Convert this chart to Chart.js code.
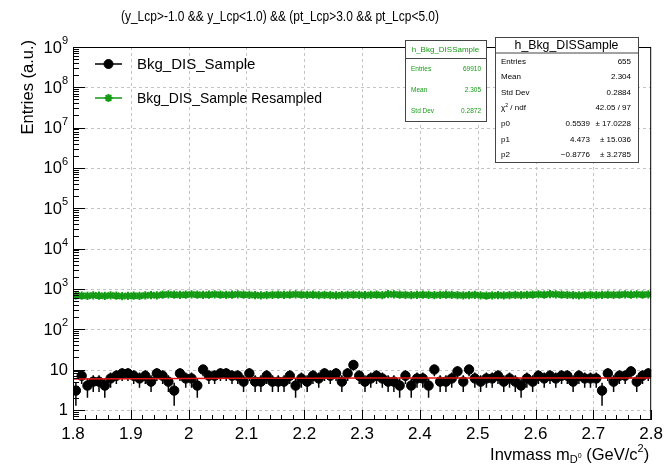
<!DOCTYPE html>
<html>
<head>
<meta charset="utf-8">
<script src="https://cdn.jsdelivr.net/npm/chart.js@4.4.0/dist/chart.umd.min.js"></script>
<style>
  html, body { margin: 0; padding: 0; background: #fff; }
</style>
</head>
<body>
<canvas id="myChart" width="667" height="464"></canvas>
<script>
// histogram binning (GeV/c^2)
const binLow = 1.8;
const binWidth = 0.01;

// Bkg_DIS_Sample, counts per bin
const sampleCounts = [
  3, 7, 4, 5, 5, 4, 6, 7, 8, 8,
  7, 6, 7, 5, 8, 7, 5, 3, 8, 6,
  6, 4, 10, 7, 7, 8, 8, 7, 7, 5,
  8, 5, 5, 7, 5, 5, 5, 7, 4, 6,
  5, 7, 6, 8, 7, 8, 5, 8, 13, 7,
  5, 6, 7, 6, 5, 5, 4, 7, 4, 6,
  6, 4, 10, 5, 5, 6, 9, 5, 10, 6,
  5, 6, 6, 7, 5, 6, 5, 4, 6, 5,
  7, 6, 7, 6, 7, 7, 5, 7, 6, 6,
  6, 3, 8, 5, 7, 7, 9, 5, 7, 8
];

// Bkg_DIS_Sample Resampled, counts per bin
const resampledCounts = [
  690, 680, 670, 690, 680, 670, 690, 680, 660, 670,
  680, 670, 690, 700, 690, 720, 730, 720, 710, 720,
  730, 720, 710, 720, 730, 720, 710, 720, 730, 720,
  710, 700, 690, 700, 710, 720, 710, 720, 730, 720,
  710, 720, 700, 710, 700, 690, 700, 710, 720, 710,
  700, 710, 720, 700, 740, 730, 720, 710, 700, 710,
  720, 710, 700, 710, 720, 710, 700, 690, 700, 710,
  690, 680, 690, 700, 690, 700, 710, 700, 710, 720,
  730, 720, 740, 730, 720, 710, 700, 690, 700, 710,
  700, 710, 720, 710, 720, 730, 720, 730, 720, 730
];

// pol2 fit curve
const fitX = [1.8, 2.0, 2.2, 2.4, 2.6, 2.8];
const fitY = [5.8, 6.0, 6.1, 6.2, 6.2, 6.2];

const titleText = '(y_Lcp>-1.0 && y_Lcp<1.0) && (pt_Lcp>3.0 && pt_Lcp<5.0)';
const legendLabels = ['Bkg_DIS_Sample', 'Bkg_DIS_Sample Resampled'];
const yDecades = [0, 1, 2, 3, 4, 5, 6, 7, 8, 9];

const statsResampledName = 'h_Bkg_DISSample';
const statsResampledRows = [['Entries', '69910'], ['Mean', '2.305'], ['Std Dev', '0.2872']];
const statsSampleName = 'h_Bkg_DISSample';
const statsSampleRows = [
  ['Entries', '655', ''],
  ['Mean', '2.304', ''],
  ['Std Dev', '0.2884', ''],
  ['chi2', '42.05 / 97', ''],
  ['p0', '0.5539', '\u00b1 17.0228'],
  ['p1', '4.473', '\u00b1 15.036'],
  ['p2', '\u22120.8776', '\u00b1 3.2785']
];

const FONT = '"Liberation Sans", Arial, Helvetica, sans-serif';
const GREEN = 'rgb(20,155,20)';

function f(px){ return px + 'px ' + FONT; }

const binCentres = sampleCounts.map((v, i) => binLow + (i + 0.5) * binWidth);

function drawMarker(ctx, style, r, bw, fill, stroke, x, y){
  if (Chart.helpers && Chart.helpers.drawPoint){
    ctx.fillStyle = fill; ctx.strokeStyle = stroke; ctx.lineWidth = bw;
    Chart.helpers.drawPoint(ctx, {pointStyle: style, radius: r, borderWidth: bw, rotation: 0}, x, y);
  }
}

// text squeezed to a given width, like the narrow ROOT helvetica
function squeezedText(ctx, txt, cx, cy, size, width){
  ctx.font = f(size);
  const w = ctx.measureText(txt).width;
  const s = Math.min(1, width / w);
  ctx.save();
  ctx.translate(cx, cy);
  ctx.scale(s, 1);
  ctx.fillText(txt, 0, 0);
  ctx.restore();
}

function statsBox(ctx, x0, y0, x1, y1, titleH, name, nameSize, rows, rowSize, color, valueX, errX){
  ctx.fillStyle = '#fff';
  ctx.fillRect(x0, y0, x1 - x0, y1 - y0);
  ctx.strokeStyle = '#444';
  ctx.lineWidth = 1;
  ctx.strokeRect(x0 + 0.5, y0 + 0.5, x1 - x0, y1 - y0);
  ctx.beginPath();
  ctx.moveTo(x0, y0 + titleH + 0.5); ctx.lineTo(x1, y0 + titleH + 0.5);
  ctx.stroke();
  ctx.fillStyle = color;
  ctx.font = f(nameSize);
  ctx.textAlign = 'center'; ctx.textBaseline = 'middle';
  ctx.fillText(name, (x0 + x1) / 2, y0 + titleH / 2 + 1);
  const rowH = (y1 - y0 - titleH) / rows.length;
  rows.forEach((r, i) => {
    const cy = y0 + titleH + rowH * (i + 0.5) + 1;
    ctx.font = f(rowSize);
    ctx.textAlign = 'left';
    if (r[0] === 'chi2'){
      ctx.fillText('\u03c7', x0 + 6, cy);
      const w = ctx.measureText('\u03c7').width;
      ctx.font = f(rowSize * 0.65);
      ctx.fillText('2', x0 + 6 + w, cy - 3);
      const w2 = ctx.measureText('2').width;
      ctx.font = f(rowSize);
      ctx.fillText(' / ndf', x0 + 6 + w + w2, cy);
    } else {
      ctx.fillText(r[0], x0 + 6, cy);
    }
    ctx.textAlign = 'right';
    if (r[2]){
      ctx.fillText(r[1], valueX, cy);
      ctx.fillText(r[2], errX, cy);
    } else {
      ctx.fillText(r[1], errX, cy);
    }
  });
}

const rootPlugin = {
  id: 'rootStyle',
  beforeDatasetsDraw(chart){
    const {ctx, chartArea: a, scales: {x, y}} = chart;
    ctx.save();
    // dashed grid
    ctx.strokeStyle = '#c4c4c4';
    ctx.lineWidth = 1;
    ctx.setLineDash([3, 3]);
    ctx.beginPath();
    x.ticks.forEach(t => {
      const px = Math.round(x.getPixelForValue(t.value)) + 0.5;
      if (px > a.left + 1 && px < a.right - 1){ ctx.moveTo(px, a.top); ctx.lineTo(px, a.bottom); }
    });
    yDecades.forEach(e => {
      const py = Math.round(y.getPixelForValue(Math.pow(10, e))) + 0.5;
      if (py > a.top + 1 && py < a.bottom - 1){ ctx.moveTo(a.left, py); ctx.lineTo(a.right, py); }
    });
    ctx.stroke();
    ctx.setLineDash([]);
    // poisson error bars
    [[sampleCounts, '#000', 1.5], [resampledCounts, GREEN, 1]].forEach(([vals, col, lw]) => {
      ctx.strokeStyle = col; ctx.lineWidth = lw;
      ctx.beginPath();
      vals.forEach((v, i) => {
        const px = x.getPixelForValue(binCentres[i]);
        const err = Math.sqrt(v);
        ctx.moveTo(px, y.getPixelForValue(v + err));
        ctx.lineTo(px, y.getPixelForValue(Math.max(v - err, y.min)));
      });
      ctx.stroke();
    });
    ctx.restore();
  },
  afterDraw(chart){
    const {ctx, chartArea: a, scales: {x, y}} = chart;
    ctx.save();
    // frame
    ctx.strokeStyle = '#000';
    ctx.lineWidth = 1;
    ctx.strokeRect(a.left + 0.5, a.top + 0.5, a.right - a.left - 1, a.bottom - a.top - 1);
    // x ticks inside frame
    ctx.beginPath();
    for (let k = 0; k <= 50; k++){
      const v = binLow + k * 0.02;
      const px = Math.round(x.getPixelForValue(v)) + 0.5;
      const len = (k % 5 === 0) ? 10 : 5;
      ctx.moveTo(px, a.bottom); ctx.lineTo(px, a.bottom - len);
    }
    // y ticks inside frame
    for (let e = -1; e <= 9; e++){
      for (let k = 1; k <= 9; k++){
        const v = k * Math.pow(10, e);
        if (v < y.min || v > y.max * 1.0001) continue;
        const py = Math.round(y.getPixelForValue(v)) + 0.5;
        const len = (k === 1) ? 12 : 6;
        ctx.moveTo(a.left, py); ctx.lineTo(a.left + len, py);
      }
    }
    ctx.stroke();
    // y tick labels
    ctx.fillStyle = '#000';
    ctx.textBaseline = 'middle';
    ctx.textAlign = 'left';
    const rx = a.left - 5;
    yDecades.forEach(e => {
      const py = y.getPixelForValue(Math.pow(10, e));
      ctx.font = f(16.5);
      if (e === 0 || e === 1){
        const s = e === 0 ? '1' : '10';
        ctx.fillText(s, rx - ctx.measureText(s).width, py + 1);
      } else {
        const wb = ctx.measureText('10').width;
        ctx.font = f(11);
        const ws = ctx.measureText(String(e)).width;
        ctx.fillText(String(e), rx - ws, py - 6);
        ctx.font = f(16.5);
        ctx.fillText('10', rx - ws - wb, py + 1);
      }
    });
    // y axis title
    ctx.save();
    ctx.translate(28, a.top - 7);
    ctx.rotate(-Math.PI / 2);
    ctx.font = f(16.5);
    ctx.textAlign = 'right';
    ctx.textBaseline = 'middle';
    ctx.fillText('Entries (a.u.)', 0, 0);
    ctx.restore();
    // x axis title: Invmass m_{D^0} (GeV/c^2)
    {
      const base = 455;
      const parts = [
        ['Invmass m', 16.5, 0], ['D', 11, 5], ['0', 7, 1], [' (GeV/c', 16.5, 0], ['2', 11, -6], [')', 16.5, 0]
      ];
      let total = 0;
      parts.forEach(p => { ctx.font = f(p[1]); total += ctx.measureText(p[0]).width; });
      let cx = a.right - 2 - total;
      ctx.textAlign = 'left';
      ctx.textBaseline = 'middle';
      parts.forEach(p => {
        ctx.font = f(p[1]);
        ctx.fillText(p[0], cx, base + p[2]);
        cx += ctx.measureText(p[0]).width;
      });
    }
    // title
    ctx.textAlign = 'center';
    ctx.textBaseline = 'middle';
    squeezedText(ctx, titleText, 280, 17, 15, 318);
    // legend
    const ly = [64, 98];
    ctx.lineWidth = 1.5;
    ctx.strokeStyle = '#000';
    ctx.beginPath(); ctx.moveTo(95, ly[0]); ctx.lineTo(122, ly[0]); ctx.stroke();
    drawMarker(ctx, 'circle', 4.5, 1, '#000', '#000', 108.5, ly[0]);
    ctx.strokeStyle = GREEN; ctx.lineWidth = 1.5;
    ctx.beginPath(); ctx.moveTo(95, ly[1]); ctx.lineTo(122, ly[1]); ctx.stroke();
    drawMarker(ctx, 'star', 4, 2, GREEN, GREEN, 108.5, ly[1]);
    ctx.fillStyle = '#000';
    ctx.textAlign = 'left';
    ctx.textBaseline = 'middle';
    ctx.font = f(15);
    ctx.fillText(legendLabels[0], 137, ly[0] + 1);
    ctx.save();
    ctx.translate(137, ly[1] + 1);
    const wl = ctx.measureText(legendLabels[1]).width;
    ctx.scale(Math.min(1, 185 / wl), 1);
    ctx.fillText(legendLabels[1], 0, 0);
    ctx.restore();
    // stats boxes
    statsBox(ctx, 405, 40, 486, 121, 18, statsResampledName, 8, statsResampledRows, 6.5, GREEN, 0, 481);
    statsBox(ctx, 495, 37, 638, 162, 15.5, statsSampleName, 12.3, statsSampleRows, 8, '#000', 590, 631);
    ctx.restore();
  }
};

const data = {
  datasets: [
    {
      label: 'fit',
      data: fitX.map((v, i) => ({x: v, y: fitY[i]})),
      showLine: true,
      borderColor: 'rgb(230,20,20)',
      borderWidth: 1.5,
      pointRadius: 0,
      tension: 0.4,
      order: 0
    },
    {
      label: legendLabels[0],
      data: sampleCounts.map((v, i) => ({x: binCentres[i], y: v})),
      showLine: false,
      pointStyle: 'circle',
      pointRadius: 4.7,
      backgroundColor: '#000',
      borderColor: '#000',
      borderWidth: 1,
      order: 1
    },
    {
      label: legendLabels[1],
      data: resampledCounts.map((v, i) => ({x: binCentres[i], y: v})),
      showLine: false,
      pointStyle: 'star',
      pointRadius: 4.2,
      backgroundColor: GREEN,
      borderColor: GREEN,
      borderWidth: 2,
      order: 2
    }
  ]
};

const config = {
  type: 'scatter',
  data: data,
  plugins: [rootPlugin],
  options: {
    responsive: false,
    animation: false,
    layout: { padding: { top: 47, right: 14, left: 0, bottom: 0 } },
    plugins: {
      legend: { display: false },
      title: { display: false },
      tooltip: { enabled: false }
    },
    scales: {
      x: {
        type: 'linear',
        min: 1.8,
        max: 2.8,
        grid: { display: false, drawTicks: false },
        border: { display: false },
        ticks: {
          stepSize: 0.1,
          autoSkip: false,
          maxRotation: 0,
          padding: 4,
          color: '#000',
          font: { family: FONT, size: 17 },
          callback: v => String(Math.round(v * 10) / 10)
        },
        afterFit: scale => { scale.height = 44; }
      },
      y: {
        type: 'logarithmic',
        min: 0.56,
        max: 1e9,
        grid: { display: false, drawTicks: false },
        border: { display: false },
        ticks: { display: false },
        afterFit: scale => { scale.width = 73; }
      }
    }
  }
};

const myChart = new Chart(document.getElementById('myChart'), config);
</script>
</body>
</html>
